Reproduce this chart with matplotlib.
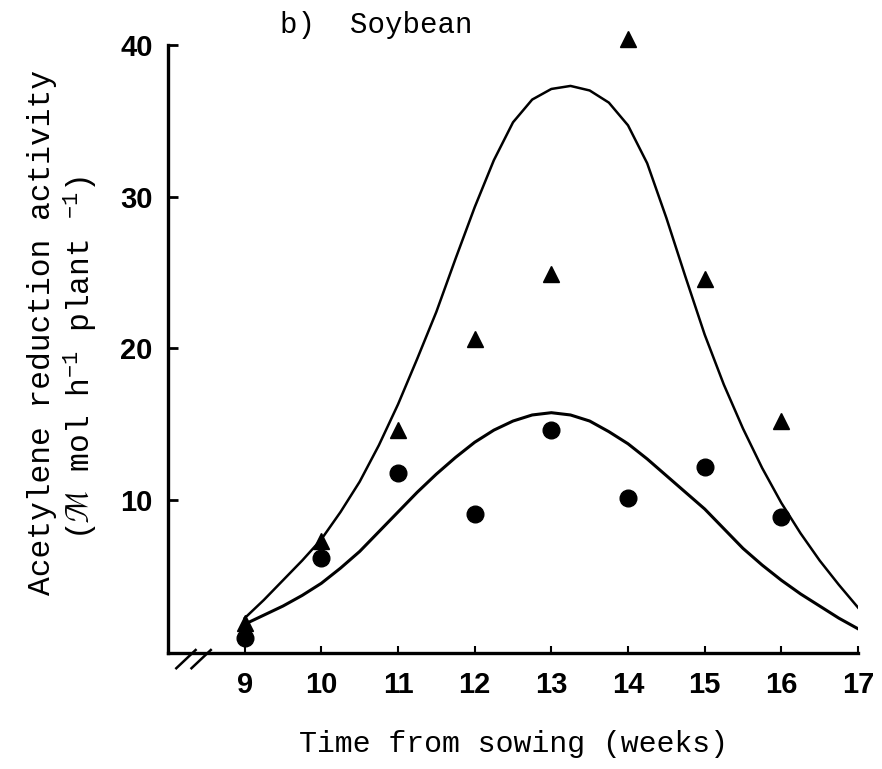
import matplotlib
matplotlib.use("Agg")
import matplotlib.pyplot as plt

# semanas de muestreo y valores medidos
weeks = [9, 10, 11, 12, 13, 14, 15, 16]
triangles = [1.9, 7.3, 14.6, 20.6, 24.9, 40.4, 24.6, 15.2]
circles = [0.9, 6.2, 11.8, 9.1, 14.6, 10.1, 12.2, 8.9]

curve_x = [9.0, 9.25, 9.5, 9.75, 10.0, 10.25, 10.5, 10.75, 11.0, 11.25, 11.5, 11.75,
           12.0, 12.25, 12.5, 12.75, 13.0, 13.25, 13.5, 13.75, 14.0, 14.25, 14.5,
           14.75, 15.0, 15.25, 15.5, 15.75, 16.0, 16.25, 16.5, 16.75, 17.0]
upper_y = [2.2, 3.4, 4.7, 6.0, 7.4, 9.2, 11.2, 13.6, 16.3, 19.3, 22.4, 25.9,
           29.3, 32.4, 34.9, 36.4, 37.1, 37.3, 37.0, 36.2, 34.7, 32.2, 28.6,
           24.7, 20.9, 17.6, 14.7, 12.1, 9.8, 7.8, 6.0, 4.4, 2.9]
lower_y = [1.8, 2.4, 3.0, 3.7, 4.5, 5.5, 6.6, 7.9, 9.2, 10.5, 11.7, 12.8,
           13.8, 14.6, 15.2, 15.6, 15.75, 15.6, 15.2, 14.5, 13.7, 12.7, 11.6,
           10.5, 9.4, 8.1, 6.8, 5.7, 4.7, 3.8, 3.0, 2.2, 1.5]

x_ticks = [9, 10, 11, 12, 13, 14, 15, 16, 17]
y_ticks = [10, 20, 30, 40]

plt.rcParams['mathtext.fontset'] = 'custom'
plt.rcParams['mathtext.rm'] = 'Liberation Mono'
plt.rcParams['mathtext.it'] = 'Liberation Mono:italic'

fig = plt.figure(figsize=(8.82, 7.69), dpi=100)
ax = fig.add_axes([0.1905, 0.1508, 0.7823, 0.7907])

ax.plot(curve_x, upper_y, color='black', lw=1.8)
ax.plot(curve_x, lower_y, color='black', lw=2.2)
ax.plot(weeks, triangles, linestyle='none', marker='^', color='black', markersize=11, clip_on=False)
ax.plot(weeks, circles, linestyle='none', marker='o', color='black', markersize=12, clip_on=False)

ax.set_xlim(8, 17)
ax.set_ylim(-0.1, 40)
ax.spines['top'].set_visible(False)
ax.spines['right'].set_visible(False)
ax.spines['left'].set_linewidth(2.4)
ax.spines['bottom'].set_linewidth(2.4)

ax.set_xticks(x_ticks)
ax.set_yticks(y_ticks)
ax.tick_params(axis='y', direction='in', length=7, width=2, pad=11)
ax.tick_params(axis='x', direction='in', length=5, width=1.5, pad=13)
for lab in ax.get_xticklabels() + ax.get_yticklabels():
    lab.set_fontfamily('Liberation Sans')
    lab.set_fontweight('bold')
    lab.set_fontsize(21)

# marcas de corte del eje x
for x0 in [0.012, 0.034]:
    ax.plot([x0, x0 + 0.028], [-0.025, 0.005], color='black', lw=1.8,
            transform=ax.transAxes, clip_on=False)

ax.set_xlabel('Time from sowing (weeks)', fontfamily='Liberation Mono', fontsize=21.5, labelpad=22)
fig.text(0.048, 0.567, 'Acetylene reduction activity', rotation=90, ha='center', va='center',
         fontfamily='Liberation Mono', fontsize=22.5)
fig.text(0.092, 0.535, r'($\mathcal{M}$ mol h$^{-1}$ plant $^{-1}$)', rotation=90, ha='center', va='center',
         fontfamily='Liberation Mono', fontsize=22.5)
fig.text(0.318, 0.967, 'b)  Soybean', ha='left', va='center',
         fontfamily='Liberation Mono', fontsize=21)

fig.savefig('out.png', dpi=100)
